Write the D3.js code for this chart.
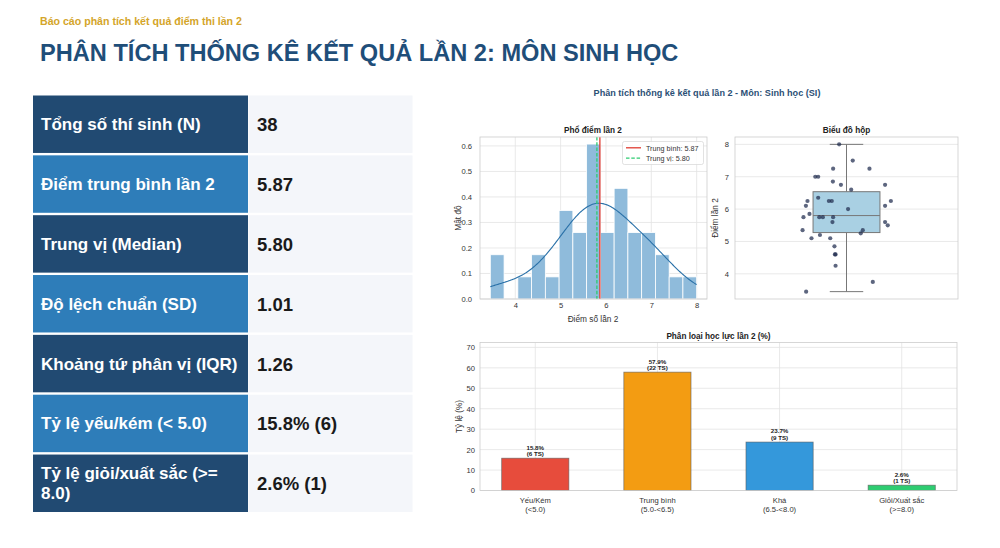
<!DOCTYPE html>
<html>
<head>
<meta charset="utf-8">
<script src="https://cdn.jsdelivr.net/npm/d3@7"></script>
<style>
  html, body { margin: 0; padding: 0; background: #ffffff; }
  svg { display: block; font-family: "Liberation Sans", Arial, Helvetica, sans-serif; }
</style>
</head>
<body>
<svg id="chart" width="1000" height="548"></svg>
<script>
// ---------------- DATA ----------------
const pageSubtitle = "Báo cáo phân tích kết quả điểm thi lần 2";
const pageTitle = "PHÂN TÍCH THỐNG KÊ KẾT QUẢ LẦN 2: MÔN SINH HỌC";

const statLabels = [
  ["Tổng số thí sinh (N)"],
  ["Điểm trung bình lần 2"],
  ["Trung vị (Median)"],
  ["Độ lệch chuẩn (SD)"],
  ["Khoảng tứ phân vị (IQR)"],
  ["Tỷ lệ yếu/kém (< 5.0)"],
  ["Tỷ lệ giỏi/xuất sắc (>=", "8.0)"]
];
const statValues = ["38", "5.87", "5.80", "1.01", "1.26", "15.8% (6)", "2.6% (1)"];

const figTitle = "Phân tích thống kê kết quả lần 2 - Môn: Sinh học (SI)";

// individual scores, with their horizontal jitter offsets
const scores = [8.0, 7.5, 7.25, 7.25, 7.0, 7.0, 6.85, 6.75, 6.75, 6.6, 6.35,
  6.25, 6.25, 6.25, 6.25, 6.1, 6.1, 6.0, 5.85, 5.75, 5.75, 5.75, 5.75,
  5.6, 5.6, 5.5, 5.35, 5.35, 5.25, 5.2, 5.1, 5.1, 4.85, 4.6, 4.6, 4.25, 3.75, 3.45];
const jitter = [-0.033, 0.028, -0.06, 0.103, -0.14, -0.127, -0.061, -0.025, 0.173, 0.021, -0.127,
  -0.175, -0.079, -0.066, 0.199, -0.182, 0.173, 0.007, -0.166, -0.193, -0.122, -0.106, -0.06,
  -0.063, 0.173, 0.185, -0.197, 0.073, 0.064, -0.119, -0.157, -0.073, -0.054, -0.052, -0.049, -0.049, 0.118, -0.181];

// histogram: 15 bins from 3.45 to 8.0, counts per bin
const histRange = [3.45, 8.0];
const histCounts = [2, 0, 1, 2, 1, 4, 3, 7, 3, 5, 3, 3, 2, 1, 1];
const histXTicks = [4, 5, 6, 7, 8];
const histYTicks = [0.0, 0.1, 0.2, 0.3, 0.4, 0.5, 0.6];
const boxYTicks = [4, 5, 6, 7, 8];

// classification bar chart
const classCats = [["Yếu/Kém", "(<5.0)"], ["Trung bình", "(5.0-<6.5)"], ["Khá", "(6.5-<8.0)"], ["Giỏi/Xuất sắc", "(>=8.0)"]];
const classPct = [15.8, 57.9, 23.7, 2.6];
const classCount = [6, 22, 9, 1];
const classColors = ["#e74c3c", "#f39c12", "#3498db", "#2ecc71"];
const classYTicks = [0, 10, 20, 30, 40, 50, 60, 70];

// ---------------- DRAW ----------------
const svg = d3.select("#chart");
const GRID = "#e3e3e3", FRAME = "#cccccc", TXT = "#333333";
const TICKF = 7.6, LABF = 8.3, TITF = 8.2;

// Header
svg.append("text").attr("x", 40).attr("y", 24.5).attr("fill", "#d4a52a")
  .attr("font-size", 10.6).attr("font-weight", "bold").text(pageSubtitle);
svg.append("text").attr("x", 40).attr("y", 60.5).attr("fill", "#1f4e79")
  .attr("font-size", 23.6).attr("font-weight", "bold").text(pageTitle);

// Stats table
const rowY = d3.scaleBand().domain(d3.range(statLabels.length)).range([95.5, 512]).paddingInner(0.04);
const table = svg.append("g");
statLabels.forEach((lab, i) => {
  const y0 = rowY(i), h = rowY.bandwidth();
  table.append("rect").attr("x", 33).attr("y", y0).attr("width", 215).attr("height", h)
    .attr("fill", i % 2 === 0 ? "#214a72" : "#2e7db9");
  table.append("rect").attr("x", 248.5).attr("y", y0).attr("width", 164).attr("height", h)
    .attr("fill", "#f4f6fa");
  const cy = y0 + h / 2;
  if (lab.length === 1) {
    table.append("text").attr("x", 41).attr("y", cy + 6).attr("fill", "#ffffff")
      .attr("font-size", 17).attr("font-weight", "bold").text(lab[0]);
  } else {
    table.append("text").attr("x", 41).attr("y", cy - 4).attr("fill", "#ffffff")
      .attr("font-size", 17).attr("font-weight", "bold").text(lab[0]);
    table.append("text").attr("x", 41).attr("y", cy + 16).attr("fill", "#ffffff")
      .attr("font-size", 17).attr("font-weight", "bold").text(lab[1]);
  }
  table.append("text").attr("x", 257).attr("y", cy + 7).attr("fill", "#1a1a1a")
    .attr("font-size", 18.5).attr("font-weight", "bold").text(statValues[i]);
});

// Figure title
svg.append("text").attr("x", 707).attr("y", 96).attr("text-anchor", "middle")
  .attr("fill", "#2b4f75").attr("font-size", 9.1).attr("font-weight", "bold").text(figTitle);

function styleAxis(g) {
  g.select(".domain").remove();
  g.selectAll(".tick line").remove();
  g.selectAll(".tick text").attr("fill", TXT).attr("font-size", TICKF)
    .attr("font-family", "'Liberation Sans', Arial, sans-serif");
}

// ---------- Histogram ----------
const N = scores.length;
const hx = d3.scaleLinear().domain([3.2225, 8.2275]).range([480, 707]);
const hy = d3.scaleLinear().domain([0, 0.635]).range([299, 137]);
const hg = svg.append("g");
hg.append("rect").attr("x", 480).attr("y", 137).attr("width", 227).attr("height", 162).attr("fill", "#fff");
hg.selectAll(".gx").data(histXTicks).join("line").attr("x1", d => hx(d)).attr("x2", d => hx(d))
  .attr("y1", 137).attr("y2", 299).attr("stroke", GRID).attr("stroke-width", 0.8);
hg.selectAll(".gy").data(histYTicks).join("line").attr("class", "gy").attr("y1", d => hy(d)).attr("y2", d => hy(d))
  .attr("x1", 480).attr("x2", 707).attr("stroke", GRID).attr("stroke-width", 0.8);
const binW = (histRange[1] - histRange[0]) / histCounts.length;
hg.selectAll(".bar").data(histCounts).join("rect").attr("class", "bar")
  .attr("x", (d, i) => hx(histRange[0] + i * binW))
  .attr("width", hx(histRange[0] + binW) - hx(histRange[0]))
  .attr("y", d => hy(d / (N * binW)))
  .attr("height", d => hy(0) - hy(d / (N * binW)))
  .attr("fill", "#8fbbdb").attr("stroke", "#ffffff").attr("stroke-width", 0.8)
  .attr("display", d => d > 0 ? null : "none");
// KDE (Gaussian, Scott's rule) from the scores
const sd = d3.deviation(scores);
const bw = sd * Math.pow(N, -0.2);
const kdeX = d3.range(0, 201).map(k => histRange[0] + (histRange[1] - histRange[0]) * k / 200);
const kde = kdeX.map(x => [x, d3.mean(scores, s => Math.exp(-0.5 * ((x - s) / bw) ** 2) / (bw * Math.sqrt(2 * Math.PI)))]);
hg.append("path").datum(kde).attr("fill", "none").attr("stroke", "#2a71a8").attr("stroke-width", 1.1)
  .attr("d", d3.line().x(d => hx(d[0])).y(d => hy(d[1])));
const meanV = d3.mean(scores), medV = d3.median(scores);
hg.append("line").attr("x1", hx(meanV)).attr("x2", hx(meanV)).attr("y1", 137).attr("y2", 299)
  .attr("stroke", "#e03c31").attr("stroke-width", 1.3);
hg.append("line").attr("x1", hx(medV)).attr("x2", hx(medV)).attr("y1", 137).attr("y2", 299)
  .attr("stroke", "#2ecc71").attr("stroke-width", 1.3).attr("stroke-dasharray", "3.5,1.8");
hg.append("rect").attr("x", 480).attr("y", 137).attr("width", 227).attr("height", 162)
  .attr("fill", "none").attr("stroke", FRAME).attr("stroke-width", 0.8);
hg.append("g").attr("transform", "translate(0,299)").call(d3.axisBottom(hx).tickValues(histXTicks).tickFormat(d3.format("d")).tickSize(0).tickPadding(4)).call(styleAxis);
hg.append("g").attr("transform", "translate(480,0)").call(d3.axisLeft(hy).tickValues(histYTicks).tickFormat(d3.format(".1f")).tickSize(0).tickPadding(8)).call(styleAxis);
// legend
const lg = hg.append("g");
lg.append("rect").attr("x", 622.5).attr("y", 141.5).attr("width", 81).attr("height", 23).attr("rx", 2)
  .attr("fill", "#ffffff").attr("fill-opacity", 0.85).attr("stroke", "#d6d6d6").attr("stroke-width", 0.7);
lg.append("line").attr("x1", 626).attr("x2", 641).attr("y1", 147.8).attr("y2", 147.8).attr("stroke", "#e03c31").attr("stroke-width", 1.3);
lg.append("line").attr("x1", 626).attr("x2", 641).attr("y1", 158.2).attr("y2", 158.2).attr("stroke", "#2ecc71").attr("stroke-width", 1.3).attr("stroke-dasharray", "3.5,1.8");
lg.append("text").attr("x", 646).attr("y", 150.5).attr("font-size", 7.2).attr("fill", TXT).text("Trung bình: " + meanV.toFixed(2));
lg.append("text").attr("x", 646).attr("y", 160.9).attr("font-size", 7.2).attr("fill", TXT).text("Trung vị: " + medV.toFixed(2));
hg.append("text").attr("x", 593).attr("y", 133).attr("text-anchor", "middle").attr("font-size", TITF)
  .attr("font-weight", "bold").attr("fill", "#222").text("Phổ điểm lần 2");
hg.append("text").attr("x", 593).attr("y", 321.5).attr("text-anchor", "middle").attr("font-size", LABF)
  .attr("fill", TXT).text("Điểm số lần 2");
hg.append("text").attr("transform", "translate(461,218) rotate(-90)").attr("text-anchor", "middle").attr("font-size", LABF)
  .attr("fill", TXT).text("Mật độ");

// ---------- Box plot ----------
const bx = d3.scaleLinear().domain([-0.5, 0.5]).range([735, 958]);
const by = d3.scaleLinear().domain([3.2225, 8.2275]).range([299, 137]);
const bg = svg.append("g");
bg.selectAll(".gy").data(boxYTicks).join("line").attr("y1", d => by(d)).attr("y2", d => by(d))
  .attr("x1", 735).attr("x2", 958).attr("stroke", GRID).attr("stroke-width", 0.8);
const sorted = scores.slice().sort(d3.ascending);
const q1 = d3.quantileSorted(sorted, 0.25), q3 = d3.quantileSorted(sorted, 0.75), q2 = d3.quantileSorted(sorted, 0.5);
const iqr = q3 - q1;
const wLo = d3.min(sorted.filter(v => v >= q1 - 1.5 * iqr));
const wHi = d3.max(sorted.filter(v => v <= q3 + 1.5 * iqr));
const BOXC = "#777777";
bg.append("line").attr("x1", bx(0)).attr("x2", bx(0)).attr("y1", by(wHi)).attr("y2", by(q3)).attr("stroke", BOXC).attr("stroke-width", 1);
bg.append("line").attr("x1", bx(0)).attr("x2", bx(0)).attr("y1", by(q1)).attr("y2", by(wLo)).attr("stroke", BOXC).attr("stroke-width", 1);
bg.append("line").attr("x1", bx(-0.075)).attr("x2", bx(0.075)).attr("y1", by(wHi)).attr("y2", by(wHi)).attr("stroke", BOXC).attr("stroke-width", 1);
bg.append("line").attr("x1", bx(-0.075)).attr("x2", bx(0.075)).attr("y1", by(wLo)).attr("y2", by(wLo)).attr("stroke", BOXC).attr("stroke-width", 1);
bg.append("rect").attr("x", bx(-0.15)).attr("width", bx(0.15) - bx(-0.15)).attr("y", by(q3)).attr("height", by(q1) - by(q3))
  .attr("fill", "#a9d0e3").attr("stroke", BOXC).attr("stroke-width", 1);
bg.append("line").attr("x1", bx(-0.15)).attr("x2", bx(0.15)).attr("y1", by(q2)).attr("y2", by(q2)).attr("stroke", BOXC).attr("stroke-width", 1);
bg.selectAll(".pt").data(scores).join("circle").attr("class", "pt")
  .attr("cx", (d, i) => bx(jitter[i])).attr("cy", d => by(d)).attr("r", 2.1)
  .attr("fill", "#1f2b4d").attr("fill-opacity", 0.72);
bg.append("rect").attr("x", 735).attr("y", 137).attr("width", 223).attr("height", 162)
  .attr("fill", "none").attr("stroke", FRAME).attr("stroke-width", 0.8);
bg.append("g").attr("transform", "translate(735,0)").call(d3.axisLeft(by).tickValues(boxYTicks).tickFormat(d3.format("d")).tickSize(0).tickPadding(6)).call(styleAxis);
bg.append("text").attr("x", 846.5).attr("y", 133).attr("text-anchor", "middle").attr("font-size", TITF)
  .attr("font-weight", "bold").attr("fill", "#222").text("Biểu đồ hộp");
bg.append("text").attr("transform", "translate(718,218) rotate(-90)").attr("text-anchor", "middle").attr("font-size", LABF)
  .attr("fill", TXT).text("Điểm lần 2");

// ---------- Classification bar chart ----------
const cx = d3.scaleLinear().domain([-0.4525, 3.4525]).range([480, 957]);
const cy = d3.scaleLinear().domain([0, 72.4]).range([490.5, 342.5]);
const cg = svg.append("g");
cg.selectAll(".gy").data(classYTicks).join("line").attr("y1", d => cy(d)).attr("y2", d => cy(d))
  .attr("x1", 480).attr("x2", 957).attr("stroke", GRID).attr("stroke-width", 0.8);
cg.selectAll(".gx").data(classPct).join("line").attr("x1", (d, i) => cx(i)).attr("x2", (d, i) => cx(i))
  .attr("y1", 342.5).attr("y2", 490.5).attr("stroke", GRID).attr("stroke-width", 0.8);
const BW = 0.55;
cg.selectAll(".cbar").data(classPct).join("rect").attr("class", "cbar")
  .attr("x", (d, i) => cx(i - BW / 2)).attr("width", cx(BW) - cx(0))
  .attr("y", d => cy(d)).attr("height", d => cy(0) - cy(d))
  .attr("fill", (d, i) => classColors[i]).attr("stroke", "#5a5a5a").attr("stroke-opacity", 0.7).attr("stroke-width", 0.8);
cg.selectAll(".lab1").data(classPct).join("text")
  .attr("x", (d, i) => cx(i)).attr("y", d => cy(d) - 8.6).attr("text-anchor", "middle")
  .attr("font-size", 6.2).attr("font-weight", "bold").attr("fill", "#222").text(d => d.toFixed(1) + "%");
cg.selectAll(".lab2").data(classCount).join("text")
  .attr("x", (d, i) => cx(i)).attr("y", (d, i) => cy(classPct[i]) - 2.4).attr("text-anchor", "middle")
  .attr("font-size", 6.2).attr("font-weight", "bold").attr("fill", "#222").text(d => "(" + d + " TS)");
cg.append("rect").attr("x", 480).attr("y", 342.5).attr("width", 477).attr("height", 148)
  .attr("fill", "none").attr("stroke", FRAME).attr("stroke-width", 0.8);
cg.append("g").attr("transform", "translate(480,0)").call(d3.axisLeft(cy).tickValues(classYTicks).tickFormat(d3.format("d")).tickSize(0).tickPadding(5)).call(styleAxis);
classCats.forEach((c, i) => {
  cg.append("text").attr("x", cx(i)).attr("y", 502.8).attr("text-anchor", "middle").attr("font-size", TICKF).attr("fill", TXT).text(c[0]);
  cg.append("text").attr("x", cx(i)).attr("y", 512.4).attr("text-anchor", "middle").attr("font-size", TICKF).attr("fill", TXT).text(c[1]);
});
cg.append("text").attr("x", 718.5).attr("y", 338.6).attr("text-anchor", "middle").attr("font-size", TITF)
  .attr("font-weight", "bold").attr("fill", "#222").text("Phân loại học lực lần 2 (%)");
cg.append("text").attr("transform", "translate(462,416.5) rotate(-90)").attr("text-anchor", "middle").attr("font-size", LABF)
  .attr("fill", TXT).text("Tỷ lệ (%)");
</script>
</body>
</html>
